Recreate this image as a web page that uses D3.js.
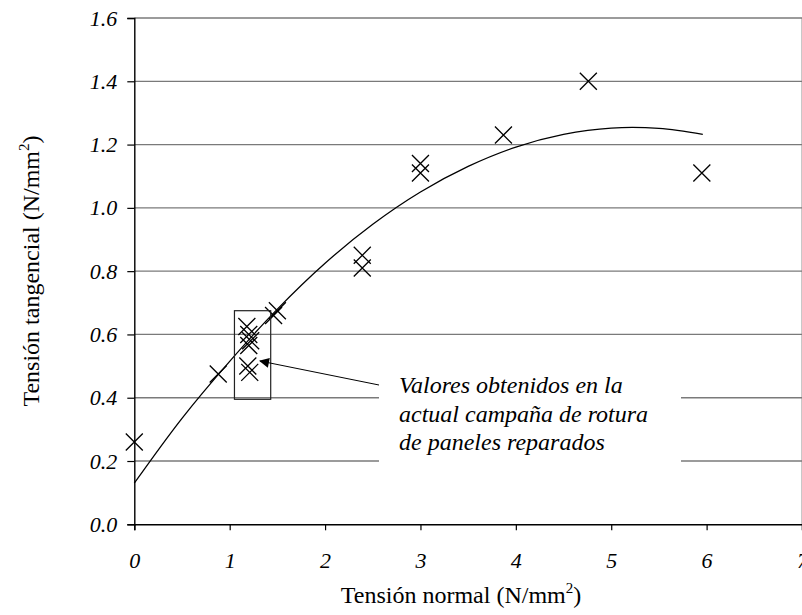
<!DOCTYPE html>
<html><head><meta charset="utf-8">
<script src="https://cdn.jsdelivr.net/npm/d3@7"></script>
<style>
body{margin:0;background:#fff;}
svg{display:block;}
text{font-family:"Liberation Serif","Times New Roman",serif;fill:#000;}
</style></head>
<body><svg id="c" width="802" height="615"></svg>
<script>
// ---- data ----
const xTicks = [0,1,2,3,4,5,6,7];
const yTicks = [0.0,0.2,0.4,0.6,0.8,1.0,1.2,1.4,1.6];
const pointX = [0, 0.88, 1.18, 1.20, 1.22, 1.20, 1.19, 1.21, 1.46, 1.50, 2.39, 2.39, 3.0, 3.0, 3.87, 4.76, 5.95];
const pointY = [0.26, 0.475, 0.625, 0.60, 0.58, 0.565, 0.50, 0.48, 0.66, 0.675, 0.85, 0.81, 1.14, 1.11, 1.23, 1.40, 1.11];
const trendX = [0, 0.5, 1, 1.5, 2, 2.5, 3, 3.5, 4, 4.5, 5, 5.5, 5.96];
const trendY = [0.13, 0.335, 0.515, 0.68, 0.825, 0.948, 1.05, 1.131, 1.192, 1.232, 1.252, 1.251, 1.232];
const boxX = [1.05, 1.43];
const boxY = [0.395, 0.675];
const noteLines = ["Valores obtenidos en la","actual campaña de rotura","de paneles reparados"];
const xTitle = "Tensión normal (N/mm";
const yTitle = "Tensión tangencial (N/mm";

// ---- layout ----
const L=134.3, R=802, T=18, B=524.3;
const svg=d3.select("#c");
const x=d3.scaleLinear().domain([0,7]).range([L,R]);
const y=d3.scaleLinear().domain([0,1.6]).range([B,T]);

// right border
svg.append("line").attr("x1",801.5).attr("x2",801.5).attr("y1",T).attr("y2",B)
  .attr("stroke","#c8c8c8").attr("stroke-width",1);

// gridlines
svg.append("g").selectAll("line").data(yTicks.filter(d=>d>0)).join("line")
  .attr("x1",L).attr("x2",R).attr("y1",d=>y(d)).attr("y2",d=>y(d))
  .attr("stroke","#7a7a7a").attr("stroke-width",1.3);

// axes
const fmt=d3.format(".1f");
const gy=svg.append("g").attr("transform",`translate(${L},0)`)
  .call(d3.axisLeft(y).tickValues(yTicks).tickFormat(fmt).tickSize(7).tickPadding(10));
const gx=svg.append("g").attr("transform",`translate(0,${B})`)
  .call(d3.axisBottom(x).tickValues(xTicks).tickFormat(d3.format("d")).tickSize(6).tickPadding(22));
[gx,gy].forEach(g=>{
  g.select(".domain").attr("stroke","#000").attr("stroke-width",1.4);
  g.selectAll(".tick line").attr("stroke","#000").attr("stroke-width",1.2);
  g.selectAll(".tick text").attr("font-family","Liberation Serif").attr("font-style","italic")
   .attr("font-size",22).attr("fill","#000");
});

// trend line
const line=d3.line().x(d=>x(d[0])).y(d=>y(d[1])).curve(d3.curveCatmullRom);
svg.append("path").datum(trendX.map((v,i)=>[v,trendY[i]])).attr("d",line)
  .attr("fill","none").attr("stroke","#000").attr("stroke-width",1.3);

// points (X markers)
const s=8.5;
svg.append("g").selectAll("path").data(pointX.map((v,i)=>[v,pointY[i]])).join("path")
  .attr("d",d=>{const cx=x(d[0]),cy=y(d[1]);
    return `M${cx-s},${cy-s}L${cx+s},${cy+s}M${cx-s},${cy+s}L${cx+s},${cy-s}`;})
  .attr("stroke","#000").attr("stroke-width",1.3).attr("fill","none");

// annotation: white box
svg.append("rect").attr("x",379).attr("y",362).attr("width",302).attr("height",103).attr("fill","#fff");
svg.append("g").selectAll("text").data(noteLines).join("text")
  .attr("x",399).attr("y",(d,i)=>393+i*28.5)
  .attr("font-style","italic").attr("font-size",24).text(d=>d);

// cluster rectangle
svg.append("rect").attr("x",x(boxX[0])).attr("y",y(boxY[1]))
  .attr("width",x(boxX[1])-x(boxX[0])).attr("height",y(boxY[0])-y(boxY[1]))
  .attr("fill","none").attr("stroke","#222").attr("stroke-width",1.2);

// arrow
svg.append("defs").append("marker").attr("id","ah").attr("viewBox","0 0 10 10")
  .attr("refX",9).attr("refY",5).attr("markerWidth",14).attr("markerHeight",10)
  .attr("markerUnits","userSpaceOnUse").attr("orient","auto")
  .append("path").attr("d","M0,0L10,5L0,10Z").attr("fill","#000");
svg.append("line").attr("x1",379).attr("y1",385).attr("x2",260).attr("y2",361)
  .attr("stroke","#000").attr("stroke-width",1).attr("marker-end","url(#ah)");

// axis titles
const xt=svg.append("text").attr("x",461).attr("y",603).attr("text-anchor","middle").attr("font-size",24);
xt.append("tspan").text(xTitle);
xt.append("tspan").attr("font-size",15).attr("dy",-10).text("2");
xt.append("tspan").attr("dy",10).text(")");
const yt=svg.append("text").attr("transform","translate(39,271) rotate(-90)").attr("text-anchor","middle").attr("font-size",24);
yt.append("tspan").text(yTitle);
yt.append("tspan").attr("font-size",15).attr("dy",-10).text("2");
yt.append("tspan").attr("dy",10).text(")");
</script></body></html>
